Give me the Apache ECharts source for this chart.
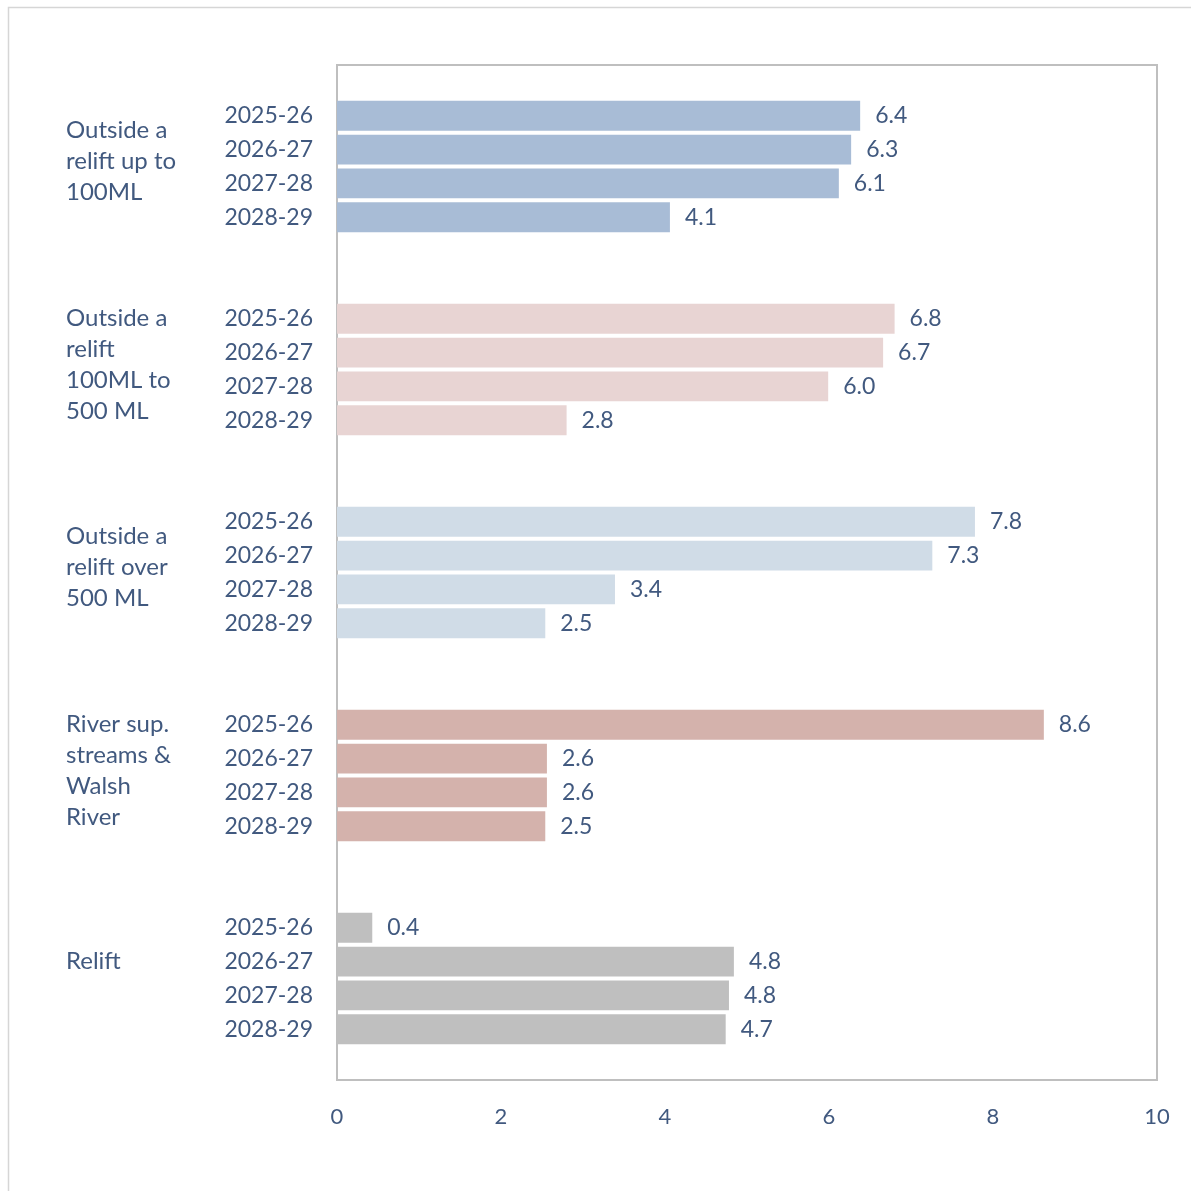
<!DOCTYPE html>
<html><head><meta charset="utf-8">
<script src="https://cdn.jsdelivr.net/npm/echarts@6/dist/echarts.min.js"></script>
<style>html,body{margin:0;padding:0;background:#fff}#c{width:1191px;height:1191px}</style>
</head><body><div id="c"></div>
<script>
const years = ['2025-26','2026-27','2027-28','2028-29'];
const groupLabels = [
  'Outside a\nrelift up to\n100ML',
  'Outside a\nrelift\n100ML to\n500 ML',
  'Outside a\nrelift over\n500 ML',
  'River sup.\nstreams &\nWalsh\nRiver',
  'Relift'
];
const outsideUpTo100 = [6.38, 6.27, 6.12, 4.06];
const outside100to500 = [6.80, 6.66, 5.99, 2.80];
const outsideOver500 = [7.78, 7.26, 3.39, 2.54];
const riverSupWalsh = [8.62, 2.56, 2.56, 2.54];
const relift = [0.43, 4.84, 4.78, 4.74];
const xTicks = [0, 2, 4, 6, 8, 10];

const groupValues = [outsideUpTo100, outside100to500, outsideOver500, riverSupWalsh, relift];
const groupColors = ['#A8BCD6', '#E8D4D3', '#D0DCE7', '#D4B2AC', '#BFBFBF'];
const textColor = '#41597F';
const font = 'Lato';

const yearCats = [], groupCats = [], barData = [];
let e = 1;
function pushEmpty(){ const s = ' '.repeat(e++); yearCats.push(s); groupCats.push(s); barData.push('-'); }
pushEmpty();
groupValues.forEach((vals, g) => {
  vals.forEach((v, k) => {
    yearCats.push(years[k] + '#' + g);
    groupCats.push(k === 1 ? groupLabels[g] : ' '.repeat(e++));
    barData.push({ value: v, itemStyle: { color: groupColors[g] } });
  });
  if (g < groupValues.length - 1) { pushEmpty(); pushEmpty(); }
});
pushEmpty();

const chart = echarts.init(document.getElementById('c'));
chart.setOption({
  animation: false,
  backgroundColor: '#fff',
  textStyle: { fontFamily: font },
  graphic: [{
    type: 'rect', silent: true, z: -10,
    shape: { x: 8.5, y: 7.5, width: 1300, height: 1300 },
    style: { fill: 'none', stroke: '#D6D6D6', lineWidth: 1.5 }
  }],
  grid: {
    left: 337, top: 65, right: 34, bottom: 111,
    show: true, borderColor: '#BFBFBF', borderWidth: 2, backgroundColor: 'transparent'
  },
  xAxis: {
    type: 'value', min: 0, max: 10, interval: 2,
    splitLine: { show: false }, axisLine: { show: false }, axisTick: { show: false },
    axisLabel: { color: textColor, fontSize: 22, fontFamily: font, margin: 26,
      formatter: v => xTicks.includes(v) ? String(v) : '' }
  },
  yAxis: [{
    type: 'category', inverse: true, data: yearCats,
    axisLine: { show: false }, axisTick: { show: false }, splitLine: { show: false },
    axisLabel: { interval: 0, color: textColor, fontSize: 23, fontFamily: font, margin: 24,
      lineHeight: 27, verticalAlign: 'middle',
      formatter: v => v.indexOf('#') >= 0 ? v.split('#')[0] : '' }
  }, {
    type: 'category', inverse: true, data: groupCats, position: 'left', offset: 271,
    axisLine: { show: false }, axisTick: { show: false }, splitLine: { show: false },
    axisLabel: { interval: 0, color: textColor, fontSize: 24, fontFamily: font, margin: 0,
      align: 'left', lineHeight: 31,
      formatter: v => {
        if (v.trim() === '') return '';
        const lines = v.split('\n');
        const body = lines.map(l => '{n|' + l + '}').join('\n');
        return lines.length > 1 ? '{s| }\n' + body : body;
      },
      rich: {
        s: { fontSize: 4, lineHeight: 24 },
        n: { color: textColor, fontSize: 24, fontFamily: font, lineHeight: 31 }
      }
    }
  }],
  series: [{
    type: 'bar', yAxisIndex: 0, data: barData, barWidth: '88%',
    label: { show: true, position: 'right', distance: 15, color: textColor,
      fontSize: 23, fontFamily: font, formatter: p => Number(p.value).toFixed(1) }
  }]
});
</script></body></html>
